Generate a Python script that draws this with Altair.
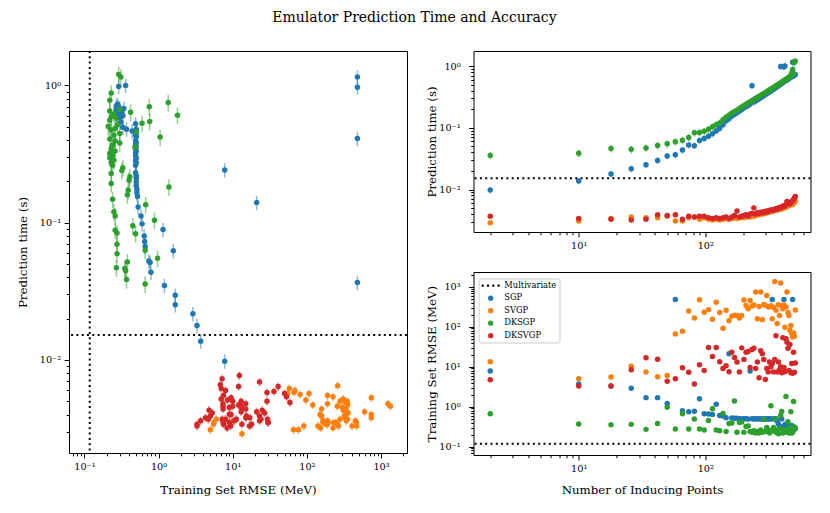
import altair as alt
import pandas as pd

# ---------------- data ----------------
N_POINTS = [2, 10, 18, 26, 34, 42, 50, 58, 66, 74, 82, 90, 98, 106, 114, 122, 130, 138, 146, 154,
            162, 170, 178, 186, 194, 202, 210, 218, 226, 234, 242, 250, 258, 266, 274, 282, 290,
            298, 306, 314, 322, 330, 338, 346, 354, 362, 370, 378, 386, 394, 402, 410, 418, 426,
            434, 442, 450, 458, 466, 474, 482, 490, 498, 506, 514]

SGP_RMSE = [7.8, 3.7, 3.3, 2.9, 1.68, 1.68, 1.2, 480, 0.79, 0.74, 0.77, 1.58,
            0.66, 0.65, 0.64, 1.15, 0.60, 0.58, 0.53, 21, 0.52, 0.51, 0.51, 0.50,
            0.50, 0.50, 0.50, 0.49, 7.8, 0.50, 0.49, 0.50, 0.49, 0.50, 0.49, 0.49,
            0.50, 0.49, 0.50, 0.49, 0.50, 0.49, 480, 0.50, 0.49, 0.50, 0.44, 0.37,
            0.33, 0.29, 0.49, 0.31, 480, 0.36, 0.30, 0.33, 0.28, 0.32, 0.30, 0.27,
            0.34, 480, 0.29, 0.27, 0.28]
SGP_TIME = [0.0098, 0.0137, 0.0178, 0.0217, 0.0252, 0.0296, 0.0348, 0.0366, 0.0435, 0.0525, 0.0512, 0.0624,
            0.067, 0.073, 0.080, 0.089, 0.098, 0.112, 0.130, 0.140, 0.155, 0.165, 0.175, 0.186,
            0.198, 0.210, 0.220, 0.231, 0.242, 0.480, 0.262, 0.273, 0.284, 0.296, 0.308, 0.320,
            0.332, 0.345, 0.358, 0.371, 0.384, 0.397, 0.410, 0.423, 0.437, 0.451, 0.465, 0.480,
            0.495, 0.980, 0.525, 0.540, 0.970, 1.000, 0.585, 0.600, 0.615, 0.630, 0.646, 0.662,
            0.678, 1.150, 0.695, 0.712, 0.730]

SVGP_RMSE = [13.3, 5.0, 5.5, 10.2, 7.4, 5.6, 6.0, 66, 77, 245, 165, 470,
             229, 267, 153, 406, 225, 91, 256, 141, 183, 193, 190, 165,
             190, 466, 340, 280, 450, 330, 350, 740, 158, 320, 740, 150,
             360, 345, 600, 310, 316, 335, 158, 300, 1340, 257, 120, 355,
             190, 1240, 330, 280, 350, 97, 310, 740, 225, 190, 81, 107,
             67, 55, 69, 58, 260]
SVGP_TIME = [0.0029, 0.0031, 0.0034, 0.0036, 0.0035, 0.0035, 0.0037, 0.0031, 0.0031, 0.0035, 0.0036, 0.0033,
             0.0035, 0.0033, 0.0032, 0.0033, 0.0032, 0.0033, 0.0034, 0.0033, 0.0034, 0.0035, 0.0034, 0.0035,
             0.0036, 0.0035, 0.0036, 0.0037, 0.0036, 0.0038, 0.0037, 0.0038, 0.0039, 0.0039, 0.0040, 0.0040,
             0.0041, 0.0041, 0.0042, 0.0043, 0.0043, 0.0044, 0.0044, 0.0045, 0.0046, 0.0046, 0.0047, 0.0047,
             0.0048, 0.0048, 0.0049, 0.0050, 0.0050, 0.0051, 0.0052, 0.0053, 0.0054, 0.0055, 0.0056, 0.0057,
             0.0058, 0.0057, 0.0060, 0.0062, 0.0065]

DKSGP_RMSE = [0.66, 0.37, 0.35, 0.36, 0.27, 0.38, 0.97, 0.275, 0.66, 0.275, 0.49, 0.275,
              0.26, 0.45, 0.88, 0.26, 0.25, 0.67, 0.24, 0.38, 0.39, 1.38, 0.23, 0.40,
              0.41, 0.23, 0.32, 0.33, 0.24, 0.23, 0.25, 0.22, 0.24, 0.22, 0.26, 0.23,
              0.48, 0.24, 0.30, 0.26, 0.22, 1.05, 0.25, 0.30, 0.50, 0.23, 0.26, 0.21,
              0.28, 0.60, 0.76, 0.22, 0.27, 0.23, 1.80, 0.25, 0.42, 0.22, 0.30, 0.75,
              0.22, 0.23, 1.35, 0.31, 0.29]
DKSGP_TIME = [0.0357, 0.0385, 0.0463, 0.0447, 0.0469, 0.0518, 0.0551, 0.0594, 0.063, 0.0697, 0.083, 0.084,
              0.088, 0.095, 0.104, 0.112, 0.120, 0.135, 0.148, 0.160, 0.172, 0.182, 0.193, 0.204,
              0.216, 0.228, 0.240, 0.251, 0.262, 0.274, 0.285, 0.297, 0.308, 0.320, 0.332, 0.344,
              0.356, 0.368, 0.381, 0.394, 0.407, 0.420, 0.433, 0.446, 0.460, 0.474, 0.488, 0.502,
              0.516, 0.530, 0.545, 0.560, 0.575, 0.590, 0.605, 0.620, 0.636, 0.652, 0.668, 0.700,
              0.780, 0.880, 0.750, 1.150, 1.200]

DKSVGP_RMSE = [4.7, 3.3, 3.3, 8.4, 16.8, 15.3, 4.3, 5.0, 9.4, 7.2, 3.7, 11.2,
               8.0, 30, 18, 30, 13.3, 9.0, 10.5, 7.5, 23, 17, 13, 7.4,
               29.5, 15, 23, 24, 9.5, 27, 29, 9.0, 13, 5.3, 25, 21,
               15, 4.8, 9.0, 7.4, 13, 10, 12, 7.4, 15, 59, 7.4, 13,
               8.5, 10, 7.0, 53, 9.5, 7.5, 50, 41, 29, 8.0, 36, 7.0,
               12, 6.8, 23, 7.2, 12.3]
DKSVGP_TIME = [0.0037, 0.0034, 0.0033, 0.0032, 0.0033, 0.0039, 0.0038, 0.0039, 0.0033, 0.0037, 0.0036, 0.0037,
               0.0037, 0.0035, 0.0034, 0.0035, 0.0034, 0.0035, 0.0036, 0.0034, 0.0036, 0.0038, 0.0045, 0.0036,
               0.0037, 0.0038, 0.0039, 0.0037, 0.0040, 0.0041, 0.0050, 0.0040, 0.0042, 0.0041, 0.0043, 0.0042,
               0.0044, 0.0043, 0.0045, 0.0044, 0.0046, 0.0046, 0.0047, 0.0046, 0.0048, 0.0049, 0.0048, 0.0050,
               0.0051, 0.0050, 0.0052, 0.0054, 0.0053, 0.0055, 0.0057, 0.0064, 0.0058, 0.0060, 0.0059, 0.0062,
               0.0064, 0.0066, 0.0069, 0.0073, 0.0077]

# relative 1-sigma spread of the prediction time
TIME_REL_ERR = {"SGP": 0.12, "SVGP": 0.07, "DKSGP": 0.14, "DKSVGP": 0.07}

MULTIVARIATE_RMSE = 0.118
MULTIVARIATE_TIME = 0.0152

MODELS = ["SGP", "SVGP", "DKSGP", "DKSVGP"]
LEGEND_NAMES = ["Multivariate"] + MODELS
COLORS = ["#000000", "#1f77b4", "#ff7f0e", "#2ca02c", "#d62728"]

SERIES = {
    "SGP": (SGP_RMSE, SGP_TIME),
    "SVGP": (SVGP_RMSE, SVGP_TIME),
    "DKSGP": (DKSGP_RMSE, DKSGP_TIME),
    "DKSVGP": (DKSVGP_RMSE, DKSVGP_TIME),
}

rows = []
for m in MODELS:
    rm, tm = SERIES[m]
    e = TIME_REL_ERR[m]
    for n, r, t in zip(N_POINTS, rm, tm):
        rows.append({"model": m, "n": n, "rmse": r, "time": t,
                     "lo": t * (1 - e), "hi": t * (1 + e)})
df = pd.DataFrame(rows)
mv_time = pd.DataFrame({"time": [MULTIVARIATE_TIME]})
mv_rmse = pd.DataFrame({"rmse": [MULTIVARIATE_RMSE]})

# ---------------- styling helpers ----------------
FONT = "DejaVu Serif"
SUP = {-3: "⁻³", -2: "⁻²", -1: "⁻¹", 0: "⁰", 1: "¹", 2: "²", 3: "³"}
MAJOR_TEST = "abs(log(datum.value)/LN10 - round(log(datum.value)/LN10)) < 0.0001"


def log_axis(title, lo, hi, title_pad, show_title=True, label_pad=3.5):
    vals, majors = [], []
    for e in range(-4, 5):
        for k in range(1, 10):
            v = float(f"{k}e{e}")
            if lo <= v <= hi:
                vals.append(v)
                if k == 1:
                    majors.append(e)
    parts = [f"abs(datum.value - {10.0 ** e!r}) < {10.0 ** e * 1e-6!r} ? '10{SUP[e]}'" for e in majors]
    expr = " : ".join(parts) + " : ''"
    kw = dict(values=vals, labelExpr=expr,
              tickSize={"condition": {"test": MAJOR_TEST, "value": 4.9}, "value": 2.8},
              tickWidth=1, tickColor="black", domain=False, grid=False,
              labelFont=FONT, labelFontSize=9.7, labelColor="black", labelPadding=label_pad,
              labelOverlap=False, labelFlush=False,
              titleFont=FONT, titleFontSize=11.8, titleFontWeight="normal",
              titleColor="black", titlePadding=title_pad)
    return alt.Axis(title=title if show_title else None, **kw)


color_scale = alt.Scale(domain=LEGEND_NAMES, range=COLORS)
DOTTED = ("M-3.4,-0.4H-2.6V0.4H-3.4Z M-1.4,-0.4H-0.6V0.4H-1.4Z "
          "M0.6,-0.4H1.4V0.4H0.6Z M2.6,-0.4H3.4V0.4H2.6Z")
shape_scale = alt.Scale(domain=LEGEND_NAMES, range=[DOTTED, "circle", "circle", "circle", "circle"])

DASH = [2, 3.3]
PT_SIZE = 30

# ---------------- left: time vs RMSE ----------------
LX = [0.062, 2240]
LY = [0.0021, 1.78]
xl = alt.X("rmse:Q", scale=alt.Scale(type="log", domain=LX, nice=False),
           axis=log_axis("Training Set RMSE (MeV)", LX[0], LX[1], 13))
yl = alt.Y("time:Q", scale=alt.Scale(type="log", domain=LY, nice=False),
           axis=log_axis("Prediction time (s)", LY[0], LY[1], 11))
col_nolegend = alt.Color("model:N", scale=color_scale, legend=None, sort=MODELS)

left_err = alt.Chart(df).mark_rule(strokeWidth=1.5, opacity=0.5).encode(
    x=xl, y=alt.Y("lo:Q", scale=alt.Scale(type="log", domain=LY, nice=False),
                  axis=log_axis("Prediction time (s)", LY[0], LY[1], 11)),
    y2="hi:Q", color=col_nolegend)
left_pts = alt.Chart(df).mark_circle(size=PT_SIZE, opacity=1).encode(
    x=xl, y=yl, color=col_nolegend)
left_h = alt.Chart(mv_time).mark_rule(color="black", strokeWidth=2, strokeDash=DASH).encode(y="time:Q")
left_v = alt.Chart(mv_rmse).mark_rule(color="black", strokeWidth=2, strokeDash=DASH).encode(x="rmse:Q")
left = alt.layer(left_err, left_pts, left_h, left_v).properties(width=338, height=402)

# ---------------- top right: time vs N ----------------
NX = [1.475, 678]
TY = [0.00205, 1.75]
RPAD = 8.5
RTITLE = 1.5
xn_top = alt.X("n:Q", scale=alt.Scale(type="log", domain=NX, nice=False),
               axis=log_axis(None, NX[0], NX[1], 11, show_title=False))
yt = alt.Y("time:Q", scale=alt.Scale(type="log", domain=TY, nice=False),
           axis=log_axis("Prediction time (s)", TY[0], TY[1], RTITLE, label_pad=RPAD))
top_err = alt.Chart(df).mark_rule(strokeWidth=1.5, opacity=0.5).encode(
    x=xn_top, y=alt.Y("lo:Q", scale=alt.Scale(type="log", domain=TY, nice=False),
                      axis=log_axis("Prediction time (s)", TY[0], TY[1], RTITLE, label_pad=RPAD)),
    y2="hi:Q", color=col_nolegend)
top_pts = alt.Chart(df).mark_circle(size=PT_SIZE, opacity=1).encode(x=xn_top, y=yt, color=col_nolegend)
top_h = alt.Chart(mv_time).mark_rule(color="black", strokeWidth=2, strokeDash=DASH).encode(y="time:Q")
top = alt.layer(top_err, top_pts, top_h).properties(width=337, height=181)

# ---------------- bottom right: RMSE vs N ----------------
BY = [0.0617, 2330]
xn_bot = alt.X("n:Q", scale=alt.Scale(type="log", domain=NX, nice=False),
               axis=log_axis("Number of Inducing Points", NX[0], NX[1], 11))
yb = alt.Y("rmse:Q", scale=alt.Scale(type="log", domain=BY, nice=False),
           axis=log_axis("Training Set RMSE (MeV)", BY[0], BY[1], RTITLE, label_pad=RPAD))
leg = alt.Legend(title=None, orient="none", legendX=5, legendY=6.5,
                 labelFont=FONT, labelFontSize=8.3, labelColor="black",
                 symbolSize=28, symbolStrokeWidth=0, symbolOpacity=1,
                 padding=3, symbolOffset=5, labelOffset=9.5, rowPadding=3.5,
                 strokeColor="#cccccc", fillColor="rgba(255,255,255,0.8)", cornerRadius=2)
bot_h = alt.Chart(mv_rmse).mark_rule(color="black", strokeWidth=2, strokeDash=DASH).encode(y="rmse:Q")
bot_pts = alt.Chart(df).mark_point(filled=True, size=PT_SIZE, opacity=1, strokeWidth=0).encode(
    x=xn_bot, y=yb,
    color=alt.Color("model:N", scale=color_scale, legend=leg, sort=MODELS),
    shape=alt.Shape("model:N", scale=shape_scale, legend=leg, sort=MODELS))
bottom = alt.layer(bot_pts, bot_h).properties(width=337, height=183)

right = alt.vconcat(top, bottom, spacing=18).resolve_scale(color="independent", shape="independent")

chart = alt.hconcat(left, right, spacing=16.5).resolve_scale(
    color="independent", shape="independent"
).properties(
    title=alt.Title("Emulator Prediction Time and Accuracy", font=FONT, fontSize=14,
                    fontWeight="normal", anchor="middle", color="black", offset=25),
    padding={"left": 8, "top": 2, "right": 5, "bottom": 5},
).configure_view(stroke="black", strokeWidth=1)

chart.save("out.html", embed_options={"renderer": "svg", "actions": False})
